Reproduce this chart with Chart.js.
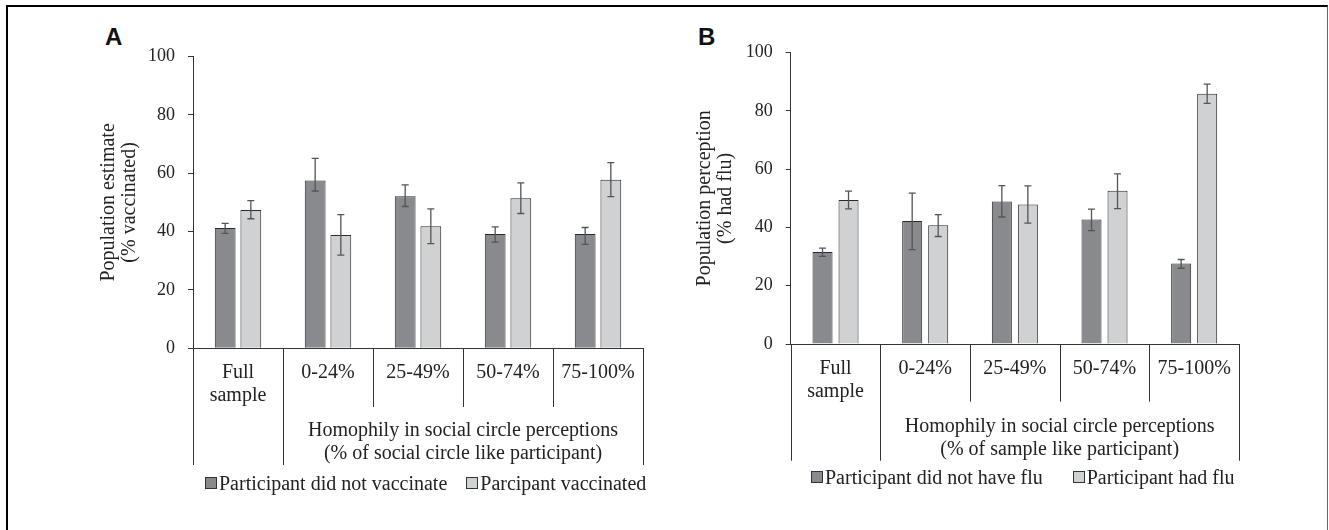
<!DOCTYPE html>
<html>
<head>
<meta charset="utf-8">
<script src="https://cdn.jsdelivr.net/npm/chart.js@4.4.0/dist/chart.umd.min.js"></script>
<style>
  html, body { margin: 0; padding: 0; background: #fff; width: 1329px; height: 530px; overflow: hidden; }
  .frame { position: absolute; left: 6px; top: 5px; width: 1319px; height: 600px;
           border-left: 2px solid #000; border-top: 2px solid #000; border-right: 1px solid #666; }
  .panel { position: absolute; top: 0; width: 660px; height: 530px; }
  .tag { position: absolute; font: bold 24px 'Liberation Sans', Arial, sans-serif; line-height: 24px; color: #111; }
  .legend { position: absolute; display: flex; align-items: center; height: 20px;
            font: 20px 'Liberation Serif', serif; line-height: 20px; color: #222; white-space: nowrap; }
  .legend .item { display: flex; align-items: center; }
  .legend .box { width: 10px; height: 10px; border: 1px solid #333; margin-right: 2px; }
</style>
</head>
<body>
<div class="frame"></div>
<div class="tag" style="left:105px; top:25px;">A</div>
<div class="tag" style="left:698px; top:25px;">B</div>
<div class="panel" style="left:0px;"><canvas id="chartA" width="660" height="530"></canvas></div>
<div class="panel" style="left:600px;"><canvas id="chartB" width="660" height="530"></canvas></div>
<div class="legend" style="left:205px; top:473px;">
  <div class="item"><span class="box" style="background:#898a8d"></span>Participant did not vaccinate</div>
  <div class="item" style="margin-left:19px"><span class="box" style="background:#d0d1d3"></span>Parcipant vaccinated</div>
</div>
<div class="legend" style="left:811px; top:467px;">
  <div class="item"><span class="box" style="background:#898a8d"></span>Participant did not have flu</div>
  <div class="item" style="margin-left:30px"><span class="box" style="background:#d0d1d3"></span>Participant had flu</div>
</div>
<script>
const categories = [['Full', 'sample'], '0-24%', '25-49%', '50-74%', '75-100%']
const yTicks = [0, 20, 40, 60, 80, 100]

// panel A: vaccination
const vaxNo = [41.2, 57.5, 52.1, 39.2, 39.2]
const vaxNoLow = [39.4, 53.9, 48.6, 36.4, 35.6]
const vaxNoHigh = [42.8, 65.1, 56.0, 41.6, 41.4]
const vaxYes = [47.4, 38.8, 41.8, 51.4, 57.8]
const vaxYesLow = [44.4, 31.9, 35.9, 46.2, 52.0]
const vaxYesHigh = [50.6, 45.8, 47.8, 56.7, 63.6]

// panel B: flu
const fluNo = [31.6, 42.2, 48.9, 42.7, 27.6]
const fluNoLow = [30.1, 32.4, 43.6, 38.9, 26.0]
const fluNoHigh = [32.9, 51.8, 54.4, 46.3, 29.0]
const fluYes = [49.4, 40.8, 47.9, 52.6, 85.9]
const fluYesLow = [46.4, 36.9, 41.5, 46.5, 82.6]
const fluYesHigh = [52.5, 44.4, 54.3, 58.4, 89.2]

const FONT = "'Liberation Serif', 'Times New Roman', serif"
const DARK = '#898a8d'
const LIGHT = '#d0d1d3'

const errorBars = {
  id: 'errorBars',
  afterDatasetsDraw(chart) {
    const { ctx } = chart
    const y = chart.scales.y
    ctx.save()
    ctx.strokeStyle = '#555'
    ctx.lineWidth = 1.3
    chart.data.datasets.forEach((ds, i) => {
      chart.getDatasetMeta(i).data.forEach((bar, j) => {
        const top = y.getPixelForValue(ds.errHigh[j])
        const bot = y.getPixelForValue(ds.errLow[j])
        ctx.beginPath()
        ctx.moveTo(bar.x, top); ctx.lineTo(bar.x, bot)
        ctx.moveTo(bar.x - 3.5, top); ctx.lineTo(bar.x + 3.5, top)
        ctx.moveTo(bar.x - 3.5, bot); ctx.lineTo(bar.x + 3.5, bot)
        ctx.stroke()
      })
    })
    ctx.restore()
  },
}

// Excel-style two-level category axis: dividers + group caption
const groupAxis = {
  id: 'groupAxis',
  afterDraw(chart, args, opts) {
    const { ctx } = chart
    const x = chart.scales.x
    const axisY = chart.chartArea.bottom
    const n = chart.data.labels.length
    const step = (x.right - x.left) / n
    ctx.save()
    ctx.strokeStyle = '#333'
    ctx.lineWidth = 1
    for (let i = 0; i <= n; i++) {
      const px = Math.round(x.left + i * step) + 0.5
      const long = i <= 1 || i === n
      ctx.beginPath()
      ctx.moveTo(px, axisY)
      ctx.lineTo(px, axisY + (long ? opts.longLen : opts.shortLen))
      ctx.stroke()
    }
    ctx.fillStyle = '#222'
    ctx.font = '20px ' + FONT
    ctx.textAlign = 'center'
    ctx.textBaseline = 'middle'
    const cx = (x.left + step + x.right) / 2
    opts.text.forEach((line, k) => ctx.fillText(line, cx, axisY + opts.labelOffset + k * 23))
    ctx.restore()
  },
}

function makeChart(id, sets, pad, yWidth, xHeight, title, group) {
  return new Chart(document.getElementById(id), {
    type: 'bar',
    data: {
      labels: categories,
      datasets: sets.map(s => ({
        data: s.data,
        errLow: s.low,
        errHigh: s.high,
        backgroundColor: s.color,
        borderColor: '#2a2a2a',
        borderWidth: 1,
        categoryPercentage: s.cat,
        barPercentage: s.bar,
      })),
    },
    options: {
      responsive: false,
      animation: false,
      layout: { padding: pad },
      plugins: { legend: { display: false }, tooltip: { enabled: false }, groupAxis: group },
      scales: {
        x: {
          grid: { display: false, drawTicks: false },
          border: { display: true, color: '#333', width: 1 },
          ticks: { color: '#222', padding: 13, maxRotation: 0, autoSkip: false,
                   font: { family: FONT, size: 20, lineHeight: 1.15 } },
          afterFit: s => { s.height = xHeight },
        },
        y: {
          min: 0,
          max: 100,
          afterBuildTicks: s => { s.ticks = yTicks.map(v => ({ value: v })) },
          grid: { display: true, drawOnChartArea: false, drawTicks: true, tickLength: 5, color: '#333' },
          border: { display: true, color: '#333', width: 1 },
          ticks: { color: '#222', padding: 13, font: { family: FONT, size: 18 } },
          title: { display: true, text: title, color: '#222', padding: { top: 8, bottom: 0 },
                   font: { family: FONT, size: 20, lineHeight: 1.05 } },
          afterFit: s => { s.width = yWidth },
        },
      },
    },
    plugins: [errorBars, groupAxis],
  })
}

makeChart('chartA', [
  { data: vaxNo, low: vaxNoLow, high: vaxNoHigh, color: DARK, cat: 0.57, bar: 0.81 },
  { data: vaxYes, low: vaxYesLow, high: vaxYesHigh, color: LIGHT, cat: 0.57, bar: 0.81 },
], { left: 90, top: 56.5, right: 17, bottom: 0 }, 103, 181.7,
  ['Population estimate', '(% vaccinated)'],
  { text: ['Homophily in social circle perceptions', '(% of social circle like participant)'],
    shortLen: 58.7, longLen: 116.7, labelOffset: 82.7 })

makeChart('chartB', [
  { data: fluNo, low: fluNoLow, high: fluNoHigh, color: DARK, cat: 0.58, bar: 0.77 },
  { data: fluYes, low: fluYesLow, high: fluYesHigh, color: LIGHT, cat: 0.58, bar: 0.77 },
], { left: 86, top: 52.7, right: 21, bottom: 0 }, 104.7, 186,
  ['Population perception', '(% had flu)'],
  { text: ['Homophily in social circle perceptions', '(% of sample like participant)'],
    shortLen: 57.7, longLen: 116.7, labelOffset: 83 })
</script>
</body>
</html>
